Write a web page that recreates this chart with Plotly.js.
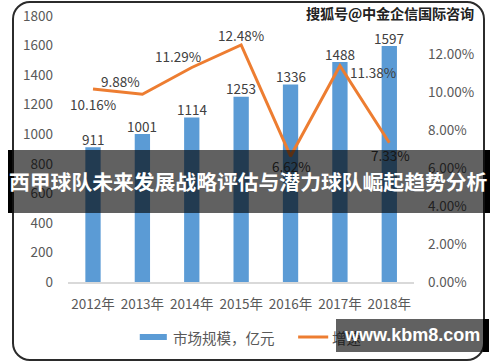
<!DOCTYPE html>
<html>
<head>
<meta charset="utf-8">
<script src="https://cdn.plot.ly/plotly-3.0.1.min.js"></script>
<style>
  html, body { margin:0; padding:0; background:#fff; }
  #wrap { position:relative; width:500px; height:362px; overflow:hidden; }
  #chart { position:absolute; left:0; top:0; width:500px; height:362px; }
  .ov { position:absolute; pointer-events:none; }
  #frame { left:12px; top:1px; width:469px; height:356px; border:2px solid #2b2b2b; border-radius:18px; }
  #banner { left:8px; top:150px; width:473px; height:63px; background:rgba(0,0,0,0.62);
            border-left:4px solid #000; border-right:5px solid #000; }
  #bannerText { left:9px; top:150px; width:485px; height:63px; line-height:63px; color:#fff;
            font-family:"Noto Sans CJK SC", sans-serif; font-weight:bold; font-size:20.8px; white-space:nowrap; }
  #wm { left:306px; top:3px; color:#222; font-family:"Noto Sans CJK SC", sans-serif; font-weight:bold;
        font-size:14.2px; white-space:nowrap; letter-spacing:-0.2px;
        text-shadow: 1px 1px 0 #fff, -1px -1px 0 #fff, 1px -1px 0 #fff, -1px 1px 0 #fff; }
  #kbm { left:336px; top:319px; width:147px; height:33px; background:rgba(0,0,0,0.62); border-right:6px solid #000; }
  #kbmText { left:345px; top:319px; height:33px; line-height:33px; color:#fff; font-family:"Liberation Sans", Arial, sans-serif;
        font-weight:bold; font-size:18px; white-space:nowrap; }
</style>
</head>
<body>
<div id="wrap">
  <div id="chart"></div>
  <div class="ov" id="frame"></div>
  <div class="ov" id="wm">搜狐号@中金企信国际咨询</div>
  <div class="ov" id="banner"></div>
  <div class="ov" id="bannerText">西甲球队未来发展战略评估与潜力球队崛起趋势分析</div>
  <div class="ov" id="kbm"></div>
  <div class="ov" id="kbmText">www.kbm8.com</div>
</div>
<script>
const categories = ['2012年','2013年','2014年','2015年','2016年','2017年','2018年'];
const marketSize = [911, 1001, 1114, 1253, 1336, 1488, 1597];
const growthRate = [0.1016, 0.0988, 0.1129, 0.1248, 0.0662, 0.1138, 0.0733];
const barName = '市场规模，亿元';
const lineName = '增速';
const leftTicks = [0, 200, 400, 600, 800, 1000, 1200, 1400, 1600, 1800];
const rightTicks = [0, 0.02, 0.04, 0.06, 0.08, 0.10, 0.12];

// label offsets (pixels) for growth-rate labels: [dx, dy] (dy positive = up)
const labelOffsets = [[0,-15],[-22,13],[-14,11],[0,10],[1,-10],[33,-6],[1,-12.5]];
const FONT = '"Noto Sans CJK SC", "Liberation Sans", sans-serif';

const bar = {
  type:'bar', x:categories, y:marketSize, name:barName,
  marker:{color:'#5B9BD5'},
  showlegend:false, hoverinfo:'skip'
};
const line = {
  type:'scatter', mode:'lines', x:categories, y:growthRate, yaxis:'y2', name:lineName,
  line:{color:'#ED7D31', width:3},
  showlegend:false, hoverinfo:'skip'
};

const L = 68.4, R = 413.6, T = 16, B = 282;
const px = x => (x - L) / (R - L);
const py = y => (B - y) / (B - T);

const barLabels = marketSize.map((v, i) => ({
  xref:'x', yref:'y', x:categories[i], y:v, showarrow:false,
  text:String(v), xanchor:'center', yanchor:'middle', yshift:8.5,
  font:{size:13.5, color:'#404040', family:FONT}
}));
const rateLabels = growthRate.map((v, i) => ({
  xref:'x', yref:'y2', x:categories[i], y:v, showarrow:false,
  text:(v*100).toFixed(2)+'%', xanchor:'center', yanchor:'middle',
  xshift:labelOffsets[i][0], yshift:labelOffsets[i][1],
  font:{size:13.5, color:'#404040', family:FONT}
}));

const layout = {
  width:500, height:362,
  margin:{l:68.4, r:86.4, t:16, b:80},
  paper_bgcolor:'#fff', plot_bgcolor:'#fff',
  bargap:0.69,
  font:{family:FONT, color:'#595959', size:13.5},
  xaxis:{type:'category', showgrid:false, zeroline:false, showline:true, linecolor:'#d9d9d9', linewidth:1.5,
         ticks:'', ticklabelstandoff:9, tickfont:{size:13.5, color:'#595959'}},
  yaxis:{range:[0,1800], tickvals:leftTicks, showgrid:false, zeroline:false, showline:false,
         ticks:'', ticklabelstandoff:14, tickfont:{size:13.5, color:'#595959'}},
  yaxis2:{range:[0,0.14], overlaying:'y', side:'right', tickvals:rightTicks, tickformat:'.2%',
          showgrid:false, zeroline:false, showline:false, ticks:'', ticklabelstandoff:13,
          tickfont:{size:13.5, color:'#595959'}},
  shapes:[
    {type:'rect', xref:'paper', yref:'paper', x0:px(140), x1:px(167), y0:py(340), y1:py(334),
     fillcolor:'#5B9BD5', line:{width:0}},
    {type:'line', xref:'paper', yref:'paper', x0:px(298), x1:px(328), y0:py(337), y1:py(337),
     line:{color:'#ED7D31', width:3}}
  ],
  annotations:[
    {xref:'paper', yref:'paper', x:px(171), y:py(337), xanchor:'left', yanchor:'middle', showarrow:false,
     text:barName, font:{size:14.5, color:'#595959', family:FONT}},
    {xref:'paper', yref:'paper', x:px(330), y:py(337), xanchor:'left', yanchor:'middle', showarrow:false,
     text:lineName, font:{size:14.5, color:'#595959', family:FONT}}
  ].concat(barLabels, rateLabels)
};

Plotly.newPlot('chart', [bar, line], layout, {staticPlot:true, displayModeBar:false});
</script>
</body>
</html>
